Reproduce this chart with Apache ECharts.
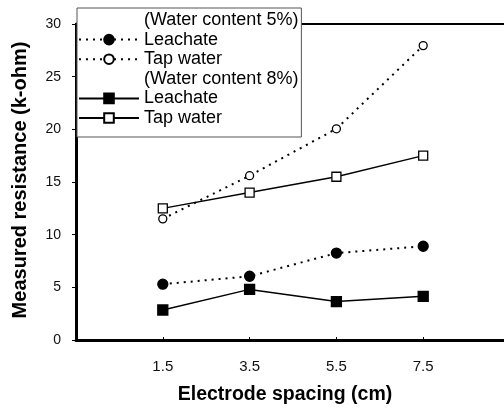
<!DOCTYPE html>
<html><head><meta charset="utf-8">
<script src="https://cdn.jsdelivr.net/npm/echarts@6/dist/echarts.min.js"></script>
<style>html,body{margin:0;padding:0;background:#fff}#c{width:504px;height:409px}</style>
</head><body><div id="c"></div>
<script>
const categories = ['', '1.5', '3.5', '5.5', '7.5', ''];
const spacing = ['1.5', '3.5', '5.5', '7.5'];
const leachate5 = [5.3, 6.05, 8.25, 8.9];
const tap5 = [11.5, 15.6, 20.05, 27.95];
const leachate8 = [2.85, 4.8, 3.65, 4.15];
const tap8 = [12.5, 14.0, 15.5, 17.5];
const yTicks = [0, 5, 10, 15, 20, 25, 30];

const toData = vals => spacing.map((s, i) => [s, vals[i]]);
const FONT = '"Liberation Sans", Arial, sans-serif';

function mk(name, vals, symbol, size, fill, dotted) {
  return {
    name, type: 'line', data: toData(vals), symbol, symbolSize: size,
    showSymbol: true,
    itemStyle: { color: fill, borderColor: '#000', borderWidth: 1.3 },
    lineStyle: { color: '#000', width: dotted ? 2 : 1.4, type: dotted ? [2, 5] : 'solid' },
    z: 5
  };
}
function header(name) {
  return { name, type: 'line', data: [], symbol: 'none', lineStyle: { opacity: 0 }, itemStyle: { opacity: 0 } };
}

const chart = echarts.init(document.getElementById('c'));
chart.setOption({
  animation: false,
  backgroundColor: '#fff',
  textStyle: { fontFamily: FONT },
  grid: { left: 76, width: 434, top: 24, bottom: 69, outerBoundsMode: 'none', containLabel: false,
          show: true, borderColor: '#000', borderWidth: 2 },
  legend: {
    orient: 'vertical', left: 77, top: 8,
    itemWidth: 60, itemHeight: 12, itemGap: 1.6,
    padding: [3, 3, 10, 1],
    backgroundColor: '#fff', borderColor: '#555', borderWidth: 1,
    textStyle: { fontFamily: FONT, fontSize: 18, lineHeight: 18, color: '#000' },
    z: 10,
    data: ['(Water content 5%)', 'Leachate ', 'Tap water ', '(Water content 8%)', 'Leachate', 'Tap water']
  },
  xAxis: {
    type: 'category', data: categories, boundaryGap: false,
    name: 'Electrode spacing (cm)', nameLocation: 'middle', nameGap: 45,
    nameTextStyle: { fontFamily: FONT, fontSize: 19.5, fontWeight: 'bold', color: '#000', padding: [0, 16, 0, 0] },
    axisLine: { lineStyle: { color: '#000', width: 3 } },
    axisTick: { show: true, inside: true, length: 3, lineStyle: { color: '#000' } },
    axisLabel: { margin: 19, fontSize: 15, color: '#111', fontFamily: FONT },
    splitLine: { show: false }
  },
  yAxis: {
    type: 'value', min: yTicks[0], max: yTicks[yTicks.length - 1], interval: 5,
    name: 'Measured resistance (k-ohm)', nameLocation: 'middle', nameGap: 46, nameRotate: 90,
    nameTextStyle: { fontFamily: FONT, fontSize: 20, fontWeight: 'bold', color: '#000', padding: [0, 0, 0, 4] },
    axisLine: { show: true, lineStyle: { color: '#000', width: 3 } },
    axisTick: { show: true, length: 4, lineStyle: { color: '#000' } },
    axisLabel: { margin: 15, fontSize: 14, color: '#111', fontFamily: FONT },
    splitLine: { show: false }
  },
  series: [
    header('(Water content 5%)'),
    mk('Leachate ', leachate5, 'circle', 10, '#000', true),
    mk('Tap water ', tap5, 'circle', 8, '#fff', true),
    header('(Water content 8%)'),
    mk('Leachate', leachate8, 'rect', 10, '#000', false),
    mk('Tap water', tap8, 'rect', 9, '#fff', false)
  ]
});
</script></body></html>
